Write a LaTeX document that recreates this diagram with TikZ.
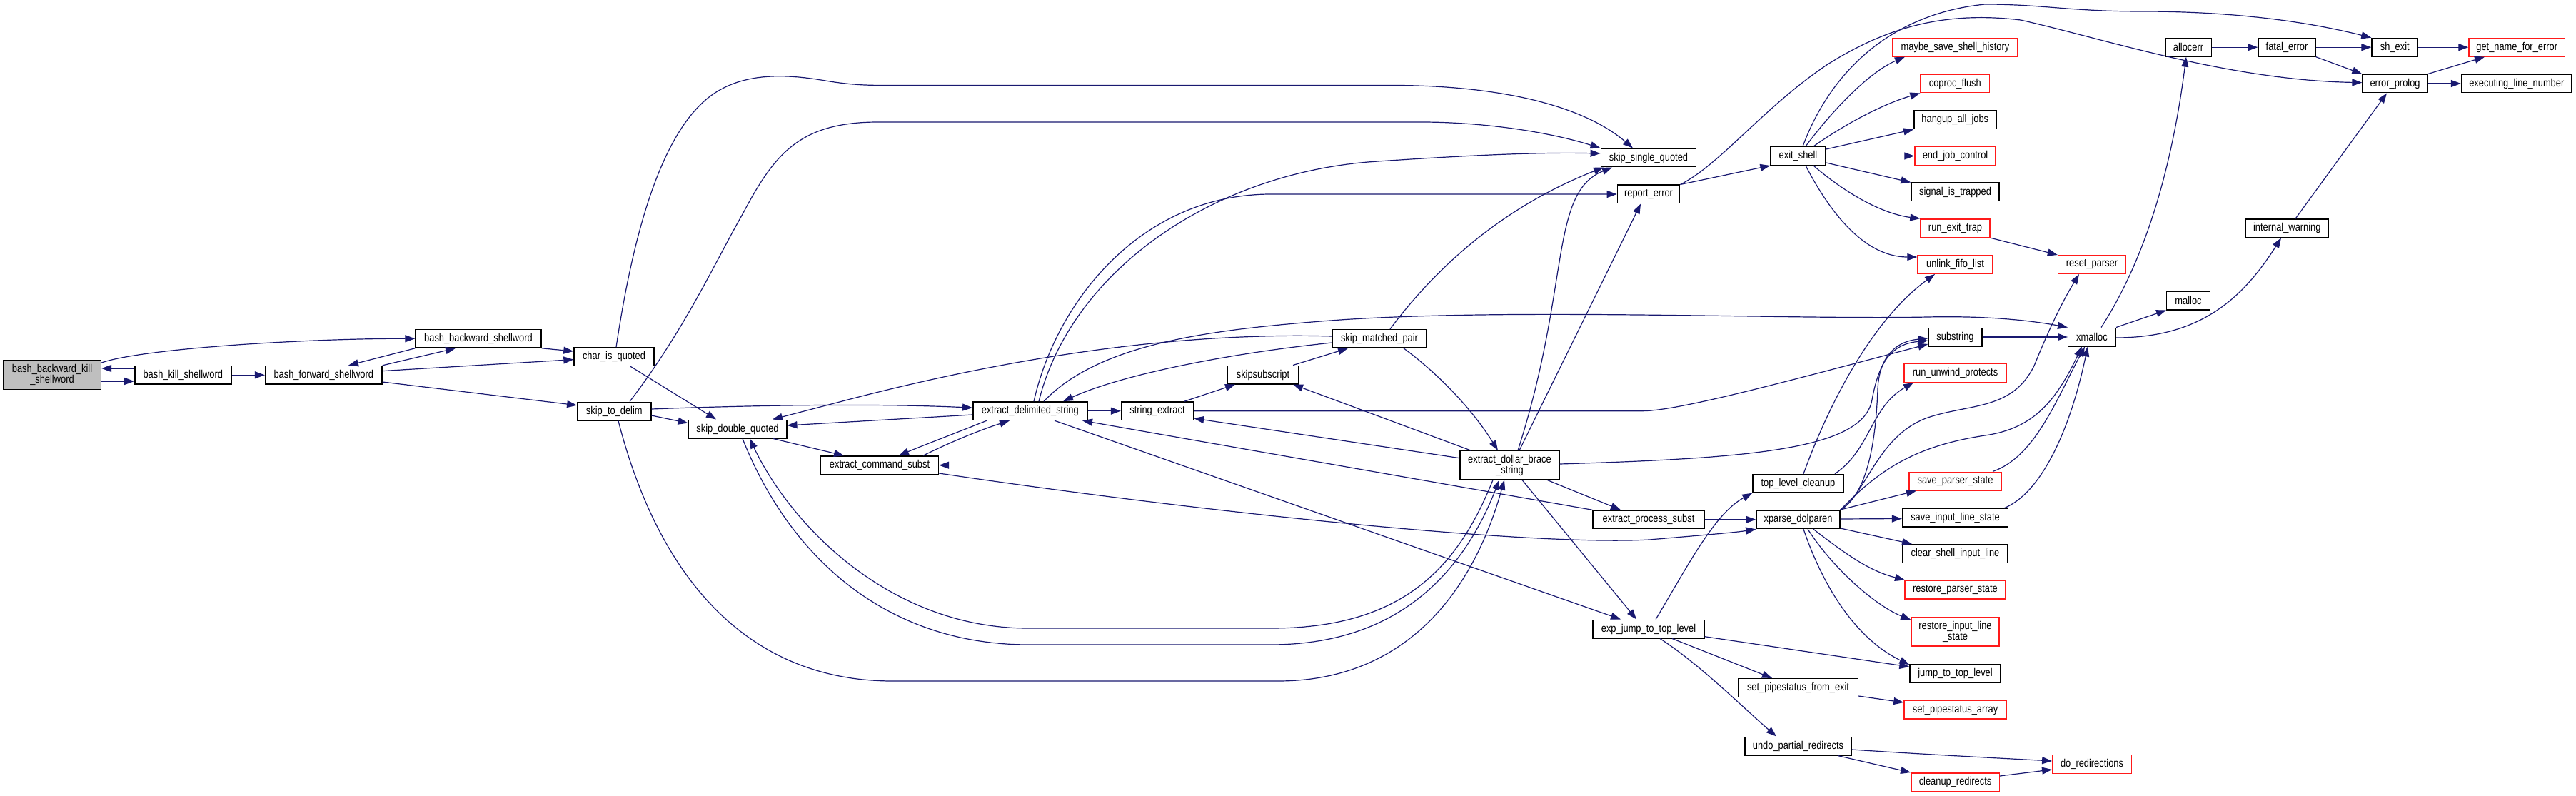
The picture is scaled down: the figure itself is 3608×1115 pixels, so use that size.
\documentclass[tikz,border=0pt]{standalone}
\usepackage{fontspec}
\newfontfamily\fnfont[FakeStretch=0.83]{Liberation Sans}
\usetikzlibrary{arrows.meta,calc}
\definecolor{edgeblue}{HTML}{191970}
\definecolor{rootgray}{HTML}{BFBFBF}
\definecolor{nodered}{HTML}{FF1A1A}
\begin{document}
\begin{tikzpicture}[x=1pt,y=-1pt,
  fn/.style={draw=black, line width=1.4pt, fill=white, minimum height=25.6pt, inner sep=1pt,
    font={\fnfont\fontsize{15.5pt}{15pt}\selectfont}, align=center},
  rfn/.style={fn, draw=nodered},
  e/.style={draw=edgeblue, line width=1.2pt, -{Triangle[length=14pt,width=10pt]}}]
\useasboundingbox (0,0) rectangle (3608,1115);
% nodes
\node[fn, fill=rootgray, minimum width=137pt, minimum height=40.6pt] (bbk) at (73,525) {bash\_backward\_kill\\\_shellword};
\node[fn, minimum width=135pt] (bks) at (256.3,525.3) {bash\_kill\_shellword};
\node[fn, minimum width=163.4pt] (bfs) at (453.3,525.3) {bash\_forward\_shellword};
\node[fn, minimum width=176pt] (bbs) at (670,474.3) {bash\_backward\_shellword};
\node[fn, minimum width=112pt] (ciq) at (860,499.7) {char\_is\_quoted};
\node[fn, minimum width=103pt] (std) at (860.3,576) {skip\_to\_delim};
\node[fn, minimum width=137.6pt] (sdq) at (1033,601) {skip\_double\_quoted};
\node[fn, minimum width=165pt] (ecs) at (1232,651.7) {extract\_command\_subst};
\node[fn, minimum width=160pt] (eds) at (1442.8,575.7) {extract\_delimited\_string};
\node[fn, minimum width=101pt] (se) at (1621,575.7) {string\_extract};
\node[fn, minimum width=98.7pt] (ssub) at (1769,525) {skipsubscript};
\node[fn, minimum width=131pt] (smp) at (1932,474.3) {skip\_matched\_pair};
\node[fn, minimum width=139pt, minimum height=40pt] (edbs) at (2114.5,651.7) {extract\_dollar\_brace\\\_string};
\node[fn, minimum width=133.5pt] (ssq) at (2309,221) {skip\_single\_quoted};
\node[fn, minimum width=87.4pt] (re) at (2309,272) {report\_error};
\node[fn, minimum width=77pt] (es) at (2518.5,218.5) {exit\_shell};
\node[fn, minimum width=156pt] (eps) at (2309,727.8) {extract\_process\_subst};
\node[fn, minimum width=156pt] (ejt) at (2309,881) {exp\_jump\_to\_top\_level};
\node[fn, minimum width=127pt] (tlc) at (2518.5,677.2) {top\_level\_cleanup};
\node[fn, minimum width=117pt] (xpd) at (2518.5,727.8) {xparse\_dolparen};
\node[fn, minimum width=168pt] (spfe) at (2518.5,963.4) {set\_pipestatus\_from\_exit};
\node[fn, minimum width=149.3pt] (upr) at (2518.5,1045) {undo\_partial\_redirects};
\node[rfn, minimum width=175pt] (msh) at (2738.5,66.2) {maybe\_save\_shell\_history};
\node[rfn, minimum width=96.5pt] (cf) at (2738.3,117) {coproc\_flush};
\node[fn, minimum width=115pt] (haj) at (2738.3,167.8) {hangup\_all\_jobs};
\node[rfn, minimum width=113pt] (ejc) at (2738.5,218.5) {end\_job\_control};
\node[fn, minimum width=123pt] (sit) at (2738.5,269) {signal\_is\_trapped};
\node[rfn, minimum width=97pt] (ret) at (2738.5,319.7) {run\_exit\_trap};
\node[rfn, minimum width=105pt] (ufl) at (2738.5,370.5) {unlink\_fifo\_list};
\node[fn, minimum width=75pt] (sub) at (2738.5,472) {substring};
\node[rfn, minimum width=143pt] (rup) at (2738.5,522.5) {run\_unwind\_protects};
\node[rfn, minimum width=129pt] (sps) at (2738.5,674) {save\_parser\_state};
\node[fn, minimum width=148pt] (sils) at (2738.5,725.3) {save\_input\_line\_state};
\node[fn, minimum width=147pt] (csil) at (2738.5,775.5) {clear\_shell\_input\_line};
\node[rfn, minimum width=141pt] (rps) at (2738.5,826) {restore\_parser\_state};
\node[rfn, minimum width=123pt, minimum height=40.3pt] (rils) at (2738.5,885) {restore\_input\_line\\\_state};
\node[fn, minimum width=127pt] (jtl) at (2738.5,943.5) {jump\_to\_top\_level};
\node[rfn, minimum width=143pt] (spa) at (2738.5,994) {set\_pipestatus\_array};
\node[rfn, minimum width=123.4pt] (cr) at (2738.5,1095.6) {cleanup\_redirects};
\node[rfn, minimum width=95pt] (rp) at (2930,370.5) {reset\_parser};
\node[fn, minimum width=66.6pt] (xm) at (2930,472) {xmalloc};
\node[rfn, minimum width=110.5pt] (dr) at (2930,1070.4) {do\_redirections};
\node[fn, minimum width=64.4pt] (ae) at (3065,66.2) {allocerr};
\node[fn, minimum width=60.5pt] (ml) at (3065,421) {malloc};
\node[fn, minimum width=80pt] (fe) at (3203,66.2) {fatal\_error};
\node[fn, minimum width=116.7pt] (iw) at (3203.3,319.8) {internal\_warning};
\node[fn, minimum width=64.6pt] (she) at (3354.3,66.2) {sh\_exit};
\node[fn, minimum width=91pt] (ep) at (3354.5,117) {error\_prolog};
\node[rfn, minimum width=134.5pt] (gnfe) at (3525.2,66.2) {get\_name\_for\_error};
\node[fn, minimum width=154.5pt] (eln) at (3524.8,117) {executing\_line\_number};
% edges
\draw[e] (bbk.east |- 0,508) .. controls (200,488) and (430,474) .. (bbs.west);
\draw[e] (bks.west |- 0,516) -- (bbk.east |- 0,516);
\draw[e] (bbk.east |- 0,534) -- (bks.west |- 0,534);
\draw[e] (bks.east) -- (bfs.west);
\draw[e] (bbs.south west) -- (bfs.north -| 488,0);
\draw[e] (bfs.north east) -- (bbs.south -| 638,0);
\draw[e] (bbs.south east) -- (ciq.west |- 0,492);
\draw[e] (bfs.east |- 0,519.6) -- (ciq.west |- 0,503.6);
\draw[e] (bfs.east |- 0,535) -- (std.west |- 0,567.7);
\draw[e] (ciq.north -| 863,0) .. controls (885,340) and (925,170) .. (1010,125) .. controls (1050,103) and (1100,104) .. (1150,112) .. controls (1185,118) and (1205,119.5) .. (1240,119.5) -- (1960,119.5) .. controls (2110,121) and (2220,150) .. (ssq.north -| 2287,0);
\draw[e] (std.north -| 882,0) .. controls (960,460) and (1000,370) .. (1040,300) .. controls (1085,215) and (1120,171) .. (1230,171) -- (1990,171) .. controls (2080,171) and (2170,185) .. (ssq.north west);
\draw[e] (ciq.south -| 883,0) -- (sdq.north -| 1003,0);
\draw[e] (std.east |- 0,573) .. controls (1100,566) and (1250,566) .. (eds.west |- 0,571.2);
\draw[e] (std.east |- 0,582) -- (sdq.west |- 0,592.6);
\draw[e] (std.south -| 866,0) .. controls (920,800) and (1040,954) .. (1250,954) -- (1790,954) .. controls (1960,954) and (2060,840) .. (edbs.south -| 2107,0);
\draw[e] (sdq.south -| 1083,0) -- (ecs.north -| 1182,0);
\draw[e] (edbs.south -| 2091,0) .. controls (2040,800) and (1960,880) .. (1780,880) -- (1440,880) .. controls (1250,880) and (1110,740) .. (sdq.south -| 1050,0);
\draw[e] (sdq.south -| 1040,0) .. controls (1110,790) and (1250,903) .. (1440,903) -- (1780,903) .. controls (1960,903) and (2050,800) .. (edbs.south -| 2100,0);
\draw[e] (eds.west |- 0,581) -- (sdq.east |- 0,596);
\draw[e] (eds.south -| 1382,0) .. controls (1330,610) and (1290,625) .. (ecs.north -| 1259,0);
\draw[e] (ecs.north -| 1293,0) .. controls (1340,615) and (1380,600) .. (eds.south -| 1414,0);
\draw[e] (eds.east) -- (se.west);
\draw[e] (eds.south -| 1477,0) -- (ejt.north -| 2270,0);
\draw[e] (eds.north -| 1448,0) .. controls (1480,420) and (1600,272) .. (1780,272) -- (re.west);
\draw[e] (eds.north -| 1455,0) .. controls (1500,380) and (1700,240) .. (1930,226) .. controls (2050,218) and (2150,213) .. (ssq.west |- 0,215);
\draw[e] (eds.north -| 1462,0) .. controls (1540,480) and (1700,462) .. (1850,450) .. controls (2100,430) and (2500,448) .. (2700,444) .. controls (2790,442) and (2850,450) .. (xm.north west);
\draw[e] (smp.north -| 1947,0) .. controls (2030,350) and (2130,280) .. (ssq.south -| 2246,0);
\draw[e] (smp.west |- 0,471) .. controls (1650,465) and (1420,500) .. (1195,558) -- (sdq.north -| 1082,0);
\draw[e] (smp.west |- 0,480) .. controls (1720,495) and (1570,525) .. (eds.north -| 1489,0);
\draw[e] (smp.south -| 1966,0) .. controls (2010,520) and (2060,570) .. (edbs.north -| 2098,0);
\draw[e] (ssub.north -| 1811,0) -- (smp.south -| 1888,0);
\draw[e] (se.north -| 1659,0) -- (ssub.south -| 1730,0);
\draw[e] (edbs.north -| 2060,0) -- (ssub.south -| 1811,0);
\draw[e] (edbs.west |- 0,641.7) -- (se.east |- 0,586);
\draw[e] (eps.north west) -- (eds.south -| 1516,0);
\draw[e] (edbs.west) -- (ecs.east);
\draw[e] (ecs.east |- 0,663) .. controls (1700,720) and (2150,765) .. (2310,756) .. controls (2380,750) and (2430,746) .. (xpd.south west);
\draw[e] (edbs.south -| 2167,0) -- (eps.north -| 2270,0);
\draw[e] (edbs.south -| 2132,0) -- (ejt.north -| 2292,0);
\draw[e] (eps.east) -- (xpd.west);
\draw[e] (edbs.north -| 2126,0) .. controls (2200,400) and (2170,270) .. (ssq.south -| 2258,0);
\draw[e] (edbs.north -| 2128,0) -- (re.south -| 2298,0);
\draw[e] (edbs.east |- 0,650) .. controls (2450,642) and (2610,630) .. (2622,560) .. controls (2632,505) and (2650,482) .. (sub.west |- 0,477);
\draw[e] (se.east) -- (2300,575.7) .. controls (2350,575.7) and (2500,535) .. (sub.west |- 0,482);
\draw[e] (xpd.north east) .. controls (2620,690) and (2628,600) .. (2630,545) .. controls (2632,500) and (2655,478) .. (sub.west |- 0,474);
\draw[e] (xpd.north east) .. controls (2615,690) and (2630,610) .. (2700,585) .. controls (2760,565) and (2820,575) .. (2850,510) .. controls (2870,460) and (2890,420) .. (rp.south -| 2912,0);
\draw[e] (xpd.north east) .. controls (2630,660) and (2680,625) .. (2780,610) .. controls (2850,600) and (2880,560) .. (xm.south -| 2916,0);
\draw[e] (sps.north -| 2791,0) .. controls (2850,640) and (2880,560) .. (xm.south -| 2920,0);
\draw[e] (sils.north -| 2807,0) .. controls (2860,690) and (2900,600) .. (xm.south -| 2924,0);
\draw[e] (xpd.east |- 0,714) -- (sps.south -| 2684,0);
\draw[e] (xpd.east |- 0,727) -- (sils.west |- 0,726.5);
\draw[e] (xpd.east |- 0,740) -- (csil.north -| 2678,0);
\draw[e] (xpd.south -| 2540,0) .. controls (2590,780) and (2620,800) .. (rps.north -| 2668,0);
\draw[e] (xpd.south -| 2532,0) .. controls (2570,800) and (2630,850) .. (rils.west |- 0,868);
\draw[e] (xpd.south -| 2526,0) .. controls (2560,840) and (2610,900) .. (jtl.west |- 0,931);
\draw[e] (ejt.north -| 2319,0) .. controls (2360,800) and (2400,720) .. (tlc.south west);
\draw[e] (ejt.east |- 0,891.7) -- (jtl.west |- 0,934);
\draw[e] (ejt.south -| 2342,0) -- (spfe.north -| 2482,0);
\draw[e] (ejt.south -| 2325,0) .. controls (2380,930) and (2440,990) .. (upr.north -| 2488,0);
\draw[e] (spfe.east |- 0,975) -- (spa.west |- 0,984);
\draw[e] (upr.south -| 2574,0) -- (cr.north west);
\draw[e] (upr.east |- 0,1050) .. controls (2700,1057) and (2800,1062) .. (dr.west |- 0,1066);
\draw[e] (cr.east |- 0,1087) -- (dr.west |- 0,1078);
\draw[e] (tlc.north -| 2526,0) .. controls (2560,570) and (2620,450) .. (ufl.south -| 2710,0);
\draw[e] (tlc.north -| 2570,0) .. controls (2620,630) and (2620,570) .. (rup.south -| 2680,0);
\draw[e] (re.north east) -- (es.south west);
\draw[e] (re.north east) .. controls (2410,230) and (2470,150) .. (2560,90) .. controls (2640,40) and (2720,15) .. (2830,28) .. controls (2950,55) and (3120,112) .. (ep.west |- 0,115.7);
\draw[e] (es.north -| 2525,0) .. controls (2560,110) and (2640,20) .. (2780,6) .. controls (2860,6) and (2900,16) .. (3000,16) .. controls (3150,16) and (3250,35) .. (she.north west);
\draw[e] (es.north -| 2529,0) .. controls (2570,150) and (2620,100) .. (msh.south -| 2668,0);
\draw[e] (es.north -| 2540,0) .. controls (2590,170) and (2640,145) .. (cf.south west);
\draw[e] (es.east |- 0,209) -- (haj.south west);
\draw[e] (es.east) -- (ejc.west);
\draw[e] (es.east |- 0,228) -- (sit.north west);
\draw[e] (es.south -| 2540,0) .. controls (2590,275) and (2640,300) .. (ret.north west);
\draw[e] (es.south -| 2529,0) .. controls (2580,330) and (2630,360) .. (ufl.west |- 0,360);
\draw[e] (ret.south east) -- (rp.north west);
\draw[e] (ae.east) -- (fe.west);
\draw[e] (fe.east) -- (she.west);
\draw[e] (fe.south east) -- (ep.north west);
\draw[e] (she.east) -- (gnfe.west);
\draw[e] (ep.north east) -- (gnfe.south -| 3480,0);
\draw[e] (ep.east) -- (eln.west);
\draw[e] (iw.north -| 3215,0) -- (ep.south -| 3343,0);
\draw[e] (xm.north -| 2943,0) .. controls (3000,370) and (3040,250) .. (ae.south -| 3062,0);
\draw[e] (xm.north east) -- (ml.south west);
\draw[e] (xm.east |- 0,473) .. controls (3080,473) and (3140,420) .. (iw.south -| 3195,0);
\draw[e] (sub.east) -- (xm.west);
\end{tikzpicture}
\end{document}
